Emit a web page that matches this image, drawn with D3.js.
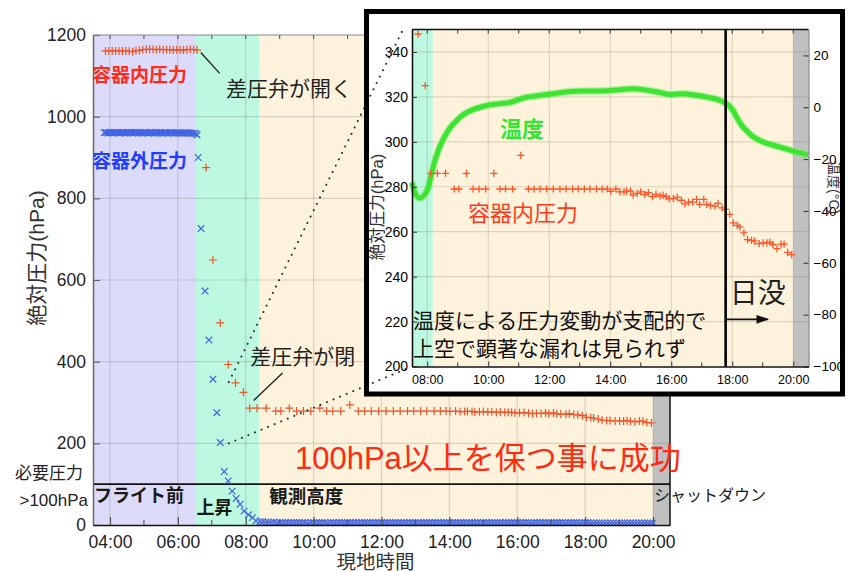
<!DOCTYPE html>
<html>
<head>
<meta charset="utf-8">
<script src="https://cdn.jsdelivr.net/npm/d3@7"></script>
<style>
  html, body { margin: 0; padding: 0; background: #fff; }
  svg { display: block; font-family: "Liberation Sans", "Noto Sans CJK JP", sans-serif; }
</style>
</head>
<body>
<svg id="chart" width="848" height="572"></svg>
<script>
// ---------------- data ----------------
// Container internal pressure (hPa) before launch, sampled every 6 min
const insidePreStart = "03:52";
const insidePreStepMin = 6;
const insidePreHPa = [1161, 1161, 1161, 1161, 1161, 1161, 1161, 1160, 1159, 1162,
                      1162, 1164, 1165, 1165, 1165, 1164, 1165, 1164, 1164, 1164,
                      1163, 1164, 1163, 1163, 1164, 1165, 1164, 1163];

// Container internal pressure (hPa) during ascent and float
const insideTimes = ["06:50", "07:02", "07:15", "07:29", "07:42", "07:56", "08:07", "08:20", "08:36", "08:53",
                     "09:02", "09:17", "09:30", "09:42", "09:55", "10:11", "10:23", "10:34", "10:48", "11:04",
                     "11:19", "11:30", "11:42", "11:55", "12:08", "12:21", "12:33", "12:46", "12:57", "13:09",
                     "13:20", "13:33", "13:44", "13:54", "14:01", "14:11", "14:19", "14:27", "14:32", "14:40",
                     "14:45", "14:53", "15:00", "15:08", "15:15", "15:23", "15:30", "15:38", "15:44", "15:50",
                     "15:56", "16:04", "16:12", "16:20", "16:27", "16:34", "16:42", "16:50", "16:56", "17:04",
                     "17:10", "17:17", "17:26", "17:32", "17:40", "17:47", "17:55", "18:02", "18:10", "18:15",
                     "18:23", "18:30", "18:38", "18:44", "18:53", "19:01", "19:08", "19:14", "19:20", "19:28",
                     "19:36", "19:42", "19:49", "19:57"];
const insideHPa = [875, 649, 495, 393, 348, 325, 286, 286, 286, 279,
                   279, 286, 279, 279, 279, 286, 279, 279, 279, 294,
                   279, 279, 279, 279, 279, 279, 279, 279, 279, 279,
                   279, 279, 279, 279, 278, 279, 277.7, 277.7, 278.1, 278.1,
                   276.3, 277.1, 277.7, 276.6, 277.4, 275.6, 276.6, 275.9, 276.2, 275.6,
                   274.7, 274.7, 275.4, 274.0, 272.4, 273.2, 273.2, 274.4, 272.2, 274.4,
                   272.2, 271.7, 271.4, 272.6, 270.6, 269.9, 267.7, 263.9, 262.8, 262.0,
                   259.5, 256.5, 256.1, 255.8, 254.7, 255.0, 255.0, 255.3, 254.3, 252.5,
                   254.5, 254.5, 250.8, 249.8];

// Ambient (outside) pressure (hPa) before launch, sampled every 3 min
const outsidePreStart = "03:50";
const outsidePreStepMin = 3;
const outsidePreHPa = [961, 961, 960, 961, 961, 960, 961, 961, 961, 960,
                       961, 961, 960, 960, 961, 961, 961, 960, 961, 961,
                       960, 961, 960, 960, 961, 961, 960, 961, 961, 960,
                       960, 961, 960, 961, 960, 960, 961, 960, 960, 961,
                       960, 960, 960, 961, 960, 960, 960, 960, 961, 960,
                       960, 960, 959, 960, 958];

// Ambient pressure (hPa) during ascent
const outsideAscentTimes = ["06:34", "06:36", "06:41", "06:48", "06:55", "07:02", "07:09", "07:15", "07:22",
                            "07:29", "07:36", "07:43", "07:50", "07:57", "08:05", "08:12", "08:18"];
const outsideAscentHPa = [955, 900, 726, 573, 453, 357, 275, 202, 131,
                          108, 83, 65, 51, 34, 25, 18, 10];

// Ambient pressure (hPa) at float altitude, sampled every 5 min
const outsideFloatStart = "08:25";
const outsideFloatStepMin = 5;
const outsideFloatHPa = [8, 8, 7, 7, 7, 7, 6, 7, 6, 6, 6, 6, 6, 6, 6, 6, 6, 5, 6, 6,
                         6, 6, 6, 6, 5, 6, 6, 6, 6, 6, 6, 6, 6, 6, 6, 6, 6, 6, 6, 6,
                         6, 6, 6, 6, 6, 6, 6, 6, 6, 6, 6, 6, 6, 6, 6, 6, 6, 6, 6, 6,
                         6, 6, 6, 6, 6, 6, 6, 6, 6, 6, 6, 6, 6, 6, 6, 6, 6, 6, 6, 6,
                         6, 6, 6, 6, 6, 6, 6, 6, 6, 6, 6, 6, 6, 6, 6, 6, 5, 6, 6, 6,
                         6, 6, 6, 6, 6, 6, 6, 6, 5, 6, 6, 6, 6, 5, 6, 6, 6, 5, 5, 5,
                         5, 5, 5, 5, 5, 5, 5, 5, 5, 5, 5, 5, 5, 5, 5, 5, 5, 5, 5, 5];

// Temperature (°C) during the flight
const tempTimes = ["07:30", "07:36", "07:43", "07:51", "08:00", "08:08", "08:16", "08:25", "08:38", "08:48",
                   "08:58", "09:10", "09:25", "09:57", "10:20", "10:43", "11:00", "11:16", "11:55", "12:20",
                   "12:47", "13:20", "13:53", "14:20", "14:45", "15:00", "15:18", "15:40", "15:57", "16:10",
                   "16:24", "16:45", "17:10", "17:30", "17:49", "18:00", "18:09", "18:18", "18:28", "18:40",
                   "18:55", "19:15", "19:34", "20:00", "20:29"];
const tempC = [-29, -33, -35, -34.5, -32, -26, -20, -15, -10, -7.2,
               -5.1, -3.0, -1.3, 0.7, 1.4, 1.9, 3.0, 3.9, 4.9, 5.6,
               6.2, 6.3, 6.4, 6.8, 7.1, 6.9, 6.4, 5.6, 4.9, 5.1,
               5.2, 4.7, 3.9, 3.0, 1.3, -0.8, -3.9, -6.8, -9.0, -11.2,
               -12.9, -14.3, -15.4, -16.9, -18.3];

// Flight phases (main chart background bands)
const phaseNames = ["フライト前", "上昇", "観測高度", "シャットダウン"];
const phaseStarts = ["03:30", "06:32", "08:24", "20:00"];
const phaseEnds = ["06:32", "08:24", "20:00", "20:30"];
// Phase bands in the detail panel
const detailPhaseStarts = ["07:30", "08:11", "20:00"];
const detailPhaseEnds = ["08:11", "20:00", "20:30"];
const sunsetTime = "17:47";

// Axis ticks
const pressureTicks = [0, 200, 400, 600, 800, 1000, 1200];
const requiredHPa = 100;
const detailPressureTicks = [200, 220, 240, 260, 280, 300, 320, 340];
const detailTempTicks = [-100, -80, -60, -40, -20, 0, 20];

// ---------------- helpers ----------------
const parseT = d3.timeParse("%H:%M");
const regular = (start, step, vals) => vals.map((v, i) => ({ t: d3.timeMinute.offset(parseT(start), i * step), v }));
const paired = (times, vals) => times.map((s, i) => ({ t: parseT(s), v: vals[i] }));
const plusPath = s => `M${-s},0H${s}M0,${-s}V${s}`;
const crossPath = s => `M${-s},${-s}L${s},${s}M${-s},${s}L${s},${-s}`;

const insideSeries = regular(insidePreStart, insidePreStepMin, insidePreHPa).concat(paired(insideTimes, insideHPa));
const outsideSeries = regular(outsidePreStart, outsidePreStepMin, outsidePreHPa)
  .concat(paired(outsideAscentTimes, outsideAscentHPa))
  .concat(regular(outsideFloatStart, outsideFloatStepMin, outsideFloatHPa));
const tempSeries = paired(tempTimes, tempC);

const phaseFill = ["#dcdcfa", "#bdf8e1", "#fdf2dc", "#c0c0c0"];
const detailFill = ["#bdf8e1", "#fdf2dc", "#c0c0c0"];

const svg = d3.select("#chart");
const fmt = d3.timeFormat("%H:%M");
const intFmt = d3.format("d");

// ---------------- main chart ----------------
const M = { left: 93, right: 670, top: 35, bottom: 525 };
const x = d3.scaleTime().domain([parseT("03:30"), parseT("20:30")]).range([M.left, M.right]);
const y = d3.scaleLinear().domain([0, 1200]).range([M.bottom, M.top]);

const defs = svg.append("defs");
defs.append("clipPath").attr("id", "mainClip")
  .append("rect").attr("x", M.left).attr("y", M.top).attr("width", M.right - M.left).attr("height", M.bottom - M.top);

const mainG = svg.append("g");

// phase bands
mainG.selectAll("rect.phase").data(phaseNames).join("rect")
  .attr("class", "phase")
  .attr("x", (d, i) => x(parseT(phaseStarts[i])))
  .attr("width", (d, i) => x(parseT(phaseEnds[i])) - x(parseT(phaseStarts[i])))
  .attr("y", M.top).attr("height", M.bottom - M.top)
  .attr("fill", (d, i) => phaseFill[i]);

// grid
const majorHours = x.ticks(d3.timeHour.every(2));
const minorHours = x.ticks(d3.timeHour.every(1));
mainG.selectAll("line.vgrid").data(majorHours).join("line")
  .attr("x1", d => x(d)).attr("x2", d => x(d)).attr("y1", M.top).attr("y2", M.bottom)
  .attr("stroke", "rgba(110,110,110,0.25)").attr("stroke-width", 1.2);
mainG.selectAll("line.hgrid").data(pressureTicks.slice(1, -1)).join("line")
  .attr("x1", M.left).attr("x2", M.right).attr("y1", d => y(d)).attr("y2", d => y(d))
  .attr("stroke", "rgba(110,110,110,0.25)").attr("stroke-width", 1.2);

// required pressure line
mainG.append("line")
  .attr("x1", M.left).attr("x2", M.right).attr("y1", y(requiredHPa)).attr("y2", y(requiredHPa))
  .attr("stroke", "#111").attr("stroke-width", 1.6);

// data marks
const dataG = mainG.append("g").attr("clip-path", "url(#mainClip)");
dataG.selectAll("path.out").data(outsideSeries).join("path")
  .attr("transform", d => `translate(${x(d.t)},${y(d.v)})`)
  .attr("d", crossPath(3.3))
  .attr("fill", "none").attr("stroke", "#3f63e6").attr("stroke-width", 1.2);
dataG.selectAll("path.in").data(insideSeries).join("path")
  .attr("transform", d => `translate(${x(d.t)},${y(d.v)})`)
  .attr("d", plusPath(4))
  .attr("fill", "none").attr("stroke", "#ee5428").attr("stroke-width", 1.2);

// axes
const axisFont = g => g.attr("font-family", "'Liberation Sans', sans-serif").attr("font-size", 17.5).attr("fill", "#222");
const yAxis = mainG.append("g").attr("transform", `translate(${M.left},0)`)
  .call(d3.axisLeft(y).tickValues(pressureTicks).tickFormat(intFmt).tickSizeInner(-7).tickSizeOuter(0).tickPadding(7));
yAxis.call(axisFont);
yAxis.select(".domain").attr("stroke", "#666").attr("stroke-width", 1.5);
yAxis.selectAll(".tick line").attr("stroke", "#666").attr("stroke-width", 1.2);
yAxis.selectAll(".tick text").attr("fill", "#222");

const xAxis = mainG.append("g").attr("transform", `translate(0,${M.bottom})`)
  .call(d3.axisBottom(x).ticks(d3.timeHour.every(2)).tickFormat(fmt).tickSizeInner(-8).tickSizeOuter(0).tickPadding(11));
xAxis.call(axisFont);
xAxis.select(".domain").attr("stroke", "#111").attr("stroke-width", 1.6);
xAxis.selectAll(".tick line").attr("stroke", "#555").attr("stroke-width", 1.2);
xAxis.selectAll(".tick text").attr("fill", "#222");

mainG.append("g").selectAll("line").data(minorHours.filter(d => d.getHours() % 2 === 1)).join("line")
  .attr("x1", d => x(d)).attr("x2", d => x(d)).attr("y1", M.bottom).attr("y2", M.bottom - 5)
  .attr("stroke", "#555").attr("stroke-width", 1.1);
mainG.append("g").selectAll("line").data(minorHours).join("line")
  .attr("x1", d => x(d)).attr("x2", d => x(d)).attr("y1", M.top).attr("y2", M.top + 4)
  .attr("stroke", "#555").attr("stroke-width", 1.1);
mainG.append("line").attr("x1", M.left).attr("x2", M.right).attr("y1", M.top).attr("y2", M.top)
  .attr("stroke", "#888").attr("stroke-width", 1.2);
mainG.append("line").attr("x1", M.right).attr("x2", M.right).attr("y1", M.top).attr("y2", M.bottom)
  .attr("stroke", "#111").attr("stroke-width", 1.5);

// axis titles
mainG.append("text").text("現地時間")
  .attr("x", (M.left + M.right) / 2 - 6).attr("y", 562).attr("text-anchor", "middle").attr("dominant-baseline", "central")
  .attr("font-size", 19.5).attr("fill", "#333");
mainG.append("text").text("絶対圧力(hPa)")
  .attr("transform", `translate(36,${(M.top + M.bottom) / 2 - 22}) rotate(-90)`)
  .attr("text-anchor", "middle").attr("dominant-baseline", "central")
  .attr("font-size", 21).attr("fill", "#333");

// annotations
const label = (txt, px, py, size, color, opts = {}) => mainG.append("text").text(txt)
  .attr("x", px).attr("y", py).attr("dominant-baseline", "central")
  .attr("text-anchor", opts.anchor || "start")
  .attr("font-size", size).attr("font-weight", opts.weight || "normal").attr("fill", color);

label("容器内圧力", M.left - 1, y(1102), 19, "#ff2a1a", { weight: "bold" });
label("容器外圧力", M.left - 1, y(890), 19, "#1f3dff", { weight: "bold" });
label("差圧弁が開く", x(parseT("07:25")), y(1068), 21, "#222");
label("差圧弁が閉", x(parseT("08:08")), y(412), 21, "#222");
label("100hPa以上を保つ事に成功", x(parseT("09:27")), y(163), 31, "#ff2a10");
label("必要圧力", M.left - 10, y(127), 17, "#222", { anchor: "end" });
label(">100hPa", M.left - 5, y(61), 17, "#222", { anchor: "end" });

// pointer lines for the valve notes
mainG.append("line")
  .attr("x1", x(parseT("06:37")) + 2).attr("y1", y(1162) + 2)
  .attr("x2", x(parseT("07:14"))).attr("y2", y(1106))
  .attr("stroke", "#222").attr("stroke-width", 1.4);
mainG.append("line")
  .attr("x1", x(parseT("08:14"))).attr("y1", y(305))
  .attr("x2", x(parseT("09:05"))).attr("y2", y(372))
  .attr("stroke", "#222").attr("stroke-width", 1.4);

// phase names
const phaseLabelPos = [
  { t: "03:30", v: 70, size: 18, weight: "bold" },
  { t: "06:31", v: 42, size: 18, weight: "bold" },
  { t: "08:40", v: 70, size: 18.5, weight: "bold" },
  { t: "20:00", v: 73, size: 16, weight: "normal" }
];
phaseNames.forEach((n, i) => {
  const p = phaseLabelPos[i];
  label(n, x(parseT(p.t)) + 1, y(p.v), p.size, "#1a1a1a", { weight: p.weight });
});

// ---------------- detail panel ----------------
const D = { left: 412, right: 808.5, top: 29.5, bottom: 366.5 };
const ix = d3.scaleTime().domain([parseT("07:30"), parseT("20:30")]).range([D.left, D.right]);
const iy = d3.scaleLinear().domain([200, 350]).range([D.bottom, D.top]);
const iyT = d3.scaleLinear().domain([-100, 30]).range([D.bottom, D.top]);

defs.append("clipPath").attr("id", "detailClip")
  .append("rect").attr("x", D.left).attr("y", D.top).attr("width", D.right - D.left).attr("height", D.bottom - D.top);

const box = { x: 366.5, y: 11.5, w: 476, h: 382.5 };
const det = svg.append("g");
det.append("rect").attr("x", box.x).attr("y", box.y).attr("width", box.w).attr("height", box.h).attr("fill", "#fff");

// dotted connectors from the zoomed range of the main chart
const zoomStart = parseT("07:30");
const connectors = [
  [[x(zoomStart), y(350)], [ix(zoomStart) - 9, iy(350)]],
  [[x(zoomStart), y(200)], [ix(zoomStart), iy(200)]]
];
svg.append("g").selectAll("line").data(connectors).join("line")
  .attr("x1", d => d[0][0]).attr("y1", d => d[0][1]).attr("x2", d => d[1][0]).attr("y2", d => d[1][1])
  .attr("stroke", "#333").attr("stroke-width", 2).attr("stroke-linecap", "round")
  .attr("stroke-dasharray", "0.1 7");

const detG = svg.append("g");
detG.selectAll("rect.dphase").data(detailFill).join("rect")
  .attr("x", (d, i) => ix(parseT(detailPhaseStarts[i])))
  .attr("width", (d, i) => ix(parseT(detailPhaseEnds[i])) - ix(parseT(detailPhaseStarts[i])))
  .attr("y", D.top).attr("height", D.bottom - D.top)
  .attr("fill", d => d);

const dMajor = ix.ticks(d3.timeHour.every(2));
const dMinor = ix.ticks(d3.timeHour.every(1));
detG.selectAll("line.dv").data(dMajor).join("line")
  .attr("x1", d => ix(d)).attr("x2", d => ix(d)).attr("y1", D.top).attr("y2", D.bottom)
  .attr("stroke", "rgba(120,110,90,0.22)").attr("stroke-width", 1.2);
detG.selectAll("line.dh").data(detailPressureTicks.slice(1)).join("line")
  .attr("x1", D.left).attr("x2", D.right).attr("y1", d => iy(d)).attr("y2", d => iy(d))
  .attr("stroke", "rgba(120,110,90,0.22)").attr("stroke-width", 1.2);

// temperature band
const tLine = d3.line().x(d => ix(d.t)).y(d => iyT(d.v)).curve(d3.curveCatmullRom.alpha(0.5));
const tG = detG.append("g");
tG.append("path").attr("d", tLine(tempSeries)).attr("fill", "none")
  .attr("stroke", "#7df06c").attr("stroke-width", 7.5).attr("stroke-opacity", 0.55);
tG.append("path").attr("d", tLine(tempSeries)).attr("fill", "none")
  .attr("stroke", "#3fe334").attr("stroke-width", 5);

// internal pressure markers
detG.append("g").attr("clip-path", "url(#detailClip)")
  .selectAll("path").data(insideSeries.filter(d => d.t >= ix.domain()[0])).join("path")
  .attr("transform", d => `translate(${ix(d.t)},${iy(d.v)})`)
  .attr("d", plusPath(3.6))
  .attr("fill", "none").attr("stroke", "#ff5526").attr("stroke-width", 1.3);

// sunset marker
detG.append("line")
  .attr("x1", ix(parseT(sunsetTime))).attr("x2", ix(parseT(sunsetTime)))
  .attr("y1", D.top).attr("y2", D.bottom)
  .attr("stroke", "#000").attr("stroke-width", 2.6);

// detail axes
const smallFont = (g, s) => g.attr("font-family", "'Liberation Sans', sans-serif").attr("font-size", s).attr("fill", "#222");
const dyAxis = detG.append("g").attr("transform", `translate(${D.left},0)`)
  .call(d3.axisLeft(iy).tickValues(detailPressureTicks).tickSizeInner(-5).tickSizeOuter(0).tickPadding(4));
smallFont(dyAxis, 14);
dyAxis.select(".domain").attr("stroke", "#111").attr("stroke-width", 1.6);
dyAxis.selectAll(".tick line").attr("stroke", "#333");

const dtAxis = detG.append("g").attr("transform", `translate(${D.right},0)`)
  .call(d3.axisRight(iyT).tickValues(detailTempTicks).tickSizeInner(-5).tickSizeOuter(0).tickPadding(5));
smallFont(dtAxis, 13.5);
dtAxis.select(".domain").attr("stroke", "#666").attr("stroke-width", 1);
dtAxis.selectAll(".tick line").attr("stroke", "#333");

const dxAxis = detG.append("g").attr("transform", `translate(0,${D.bottom})`)
  .call(d3.axisBottom(ix).ticks(d3.timeHour.every(2)).tickFormat(fmt).tickSizeInner(-5).tickSizeOuter(0).tickPadding(9));
smallFont(dxAxis, 12.5);
dxAxis.select(".domain").attr("stroke", "#111").attr("stroke-width", 1.6);
dxAxis.selectAll(".tick line").attr("stroke", "#333");

detG.append("g").selectAll("line").data(dMinor).join("line")
  .attr("x1", d => ix(d)).attr("x2", d => ix(d)).attr("y1", D.top).attr("y2", D.top + 4)
  .attr("stroke", "#333").attr("stroke-width", 1);
detG.append("g").selectAll("line").data(dMinor.filter(d => d.getHours() % 2 === 1)).join("line")
  .attr("x1", d => ix(d)).attr("x2", d => ix(d)).attr("y1", D.bottom).attr("y2", D.bottom - 4)
  .attr("stroke", "#333").attr("stroke-width", 1);
detG.append("line").attr("x1", D.left).attr("x2", D.right).attr("y1", D.top).attr("y2", D.top)
  .attr("stroke", "#111").attr("stroke-width", 1.4);

detG.append("text").text("絶対圧力(hPa)")
  .attr("transform", `translate(377,${iy(271)}) rotate(-90)`)
  .attr("text-anchor", "middle").attr("dominant-baseline", "central")
  .attr("font-size", 16.5).attr("fill", "#333");
detG.append("text").text("温度(°C)")
  .attr("transform", `translate(834,${iyT(-31)}) rotate(90)`)
  .attr("text-anchor", "middle").attr("dominant-baseline", "central")
  .attr("font-size", 14).attr("fill", "#333");

// detail annotations
const dLabel = (txt, px, py, size, color, weight) => detG.append("text").text(txt)
  .attr("x", px).attr("y", py).attr("dominant-baseline", "central")
  .attr("font-size", size).attr("font-weight", weight || "normal").attr("fill", color);
dLabel("温度", ix(parseT("10:23")), iy(305.5), 22, "#33e633", "bold");
dLabel("容器内圧力", ix(parseT("09:20")), iy(268), 22, "#ff3a1a");
dLabel("温度による圧力変動が支配的で", D.left + 1, iy(220.5), 21, "#111");
dLabel("上空で顕著な漏れは見られず", D.left + 1, iy(208), 21, "#111");
dLabel("日没", ix(parseT(sunsetTime)) + 4, iy(232.5), 28, "#222");

const arrowY = iy(221);
defs.append("marker").attr("id", "arrowHead").attr("viewBox", "0 0 10 10")
  .attr("refX", 9).attr("refY", 5).attr("markerWidth", 7).attr("markerHeight", 7).attr("orient", "auto")
  .append("path").attr("d", "M0,1.5L10,5L0,8.5Z").attr("fill", "#111");
detG.append("line")
  .attr("x1", ix(parseT(sunsetTime))).attr("x2", ix(parseT("19:10")))
  .attr("y1", arrowY).attr("y2", arrowY)
  .attr("stroke", "#111").attr("stroke-width", 1.8).attr("marker-end", "url(#arrowHead)");

// panel frame on top
svg.append("rect").attr("x", box.x).attr("y", box.y).attr("width", box.w).attr("height", box.h)
  .attr("fill", "none").attr("stroke", "#000").attr("stroke-width", 5);
</script>
</body>
</html>
